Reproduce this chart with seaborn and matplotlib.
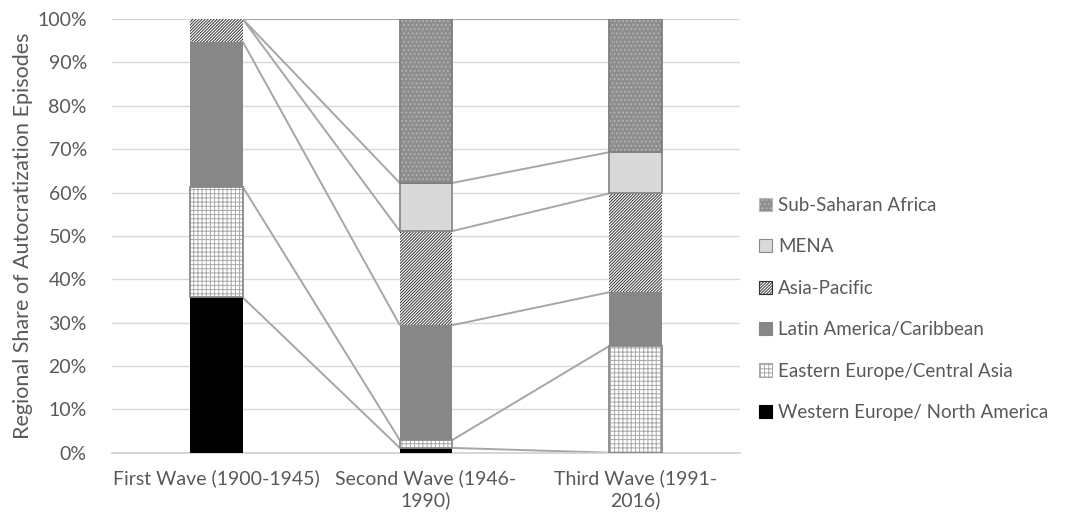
import matplotlib
matplotlib.use("Agg")
import matplotlib.pyplot as plt
from matplotlib.patches import Patch
import numpy as np
import pandas as pd
import seaborn as sns

# ---- data ----
categories = ["First Wave (1900-1945)", "Second Wave (1946-\n1990)", "Third Wave (1991-\n2016)"]
regions = ["Western Europe/ North America", "Eastern Europe/Central Asia",
           "Latin America/Caribbean", "Asia-Pacific", "MENA", "Sub-Saharan Africa"]
western_europe = [35.8, 1.1, 0.0]
eastern_europe = [25.5, 1.8, 24.6]
latin_america = [33.5, 26.5, 12.4]
asia_pacific = [5.2, 21.7, 22.8]
mena = [0.0, 11.1, 9.5]
sub_saharan = [0.0, 37.8, 30.7]
y_ticks = list(range(0, 101, 10))

series = [western_europe, eastern_europe, latin_america, asia_pacific, mena, sub_saharan]

# styles: (face, hatch, hatch colour, outline colour or None)
styles = {
    "Western Europe/ North America": ("#000000", None, "#000000", None),
    "Eastern Europe/Central Asia": ("#ffffff", "++++", "#a8a8a8", "#8a8a8a"),
    "Latin America/Caribbean": ("#878787", None, "#878787", None),
    "Asia-Pacific": ("#ffffff", "/" * 11, "#333333", None),
    "MENA": ("#d9d9d9", None, "#d9d9d9", "#8a8a8a"),
    "Sub-Saharan Africa": ("#8e8e8e", "....", "#b8b8b8", "#7f7f7f"),
}

sns.set_theme(style="white")
plt.rcParams["font.family"] = ["Lato", "DejaVu Sans"]
plt.rcParams["hatch.linewidth"] = 0.7
text_col = "#595959"

fig = plt.figure(figsize=(10.65, 5.15), dpi=100)
ax = fig.add_axes([0.105, 0.121, 0.59, 0.842])

bw = 0.25
bottoms = np.zeros(len(categories))
tops = []
for name, vals in zip(regions, series):
    face, hatch, hcol, outline = styles[name]
    vals = np.array(vals, dtype=float)
    df = pd.DataFrame({"wave": categories, "share": vals})
    sns.barplot(data=df, x="wave", y="share", order=categories, ax=ax,
                width=bw, color=face, saturation=1, bottom=bottoms.copy(),
                facecolor=face, edgecolor=hcol,
                hatch=hatch, linewidth=0, zorder=3, errorbar=None)
    if outline is not None:
        lws = [1.3 if v > 0 else 0 for v in vals]
        sns.barplot(data=df, x="wave", y="share", order=categories, ax=ax,
                    width=bw, color=outline, saturation=1, bottom=bottoms.copy(),
                    facecolor="none", edgecolor=outline,
                    linewidth=lws, zorder=4, errorbar=None)
    bottoms = bottoms + vals
    tops.append(bottoms.copy())

# series connector lines
for t in tops:
    for i in range(len(categories) - 1):
        ax.plot([i + bw / 2, i + 1 - bw / 2], [t[i], t[i + 1]],
                color="#a6a6a6", lw=1.4, zorder=2, solid_capstyle="butt")

ax.set_xlim(-0.5, len(categories) - 0.5)
ax.set_ylim(0, 100)
ax.set_yticks(y_ticks)
ax.set_yticklabels([f"{v}%" for v in y_ticks])
ax.yaxis.grid(True, color="#d9d9d9", lw=1, zorder=0)
ax.set_axisbelow(True)
for s in ["top", "right", "left"]:
    ax.spines[s].set_visible(False)
ax.spines["bottom"].set_color("#d0d0d0")
ax.spines["bottom"].set_linewidth(1.2)
ax.tick_params(axis="both", length=0, labelsize=14, colors=text_col)
ax.tick_params(axis="y", pad=18)
ax.tick_params(axis="x", pad=12)
for lab in ax.get_xticklabels():
    lab.set_multialignment("center")
    lab.set_linespacing(1.3)
ax.set_xlabel("")
ax.set_ylabel("Regional Share of Autocratization Episodes", fontsize=15.5, color=text_col, labelpad=3)

handles = []
for name in regions[::-1]:
    face, hatch, hcol, outline = styles[name]
    handles.append(Patch(facecolor=face, edgecolor=hcol if hatch else (outline or face),
                         hatch=hatch, linewidth=0.8, label=name))
leg = fig.legend(handles=handles, loc="center left", bbox_to_anchor=(0.697, 0.40),
                 frameon=False, fontsize=13.5, handlelength=0.7, handleheight=0.7,
                 handletextpad=0.3, labelspacing=1.3)
for t in leg.get_texts():
    t.set_color(text_col)

fig.savefig("out.png", dpi=100)
